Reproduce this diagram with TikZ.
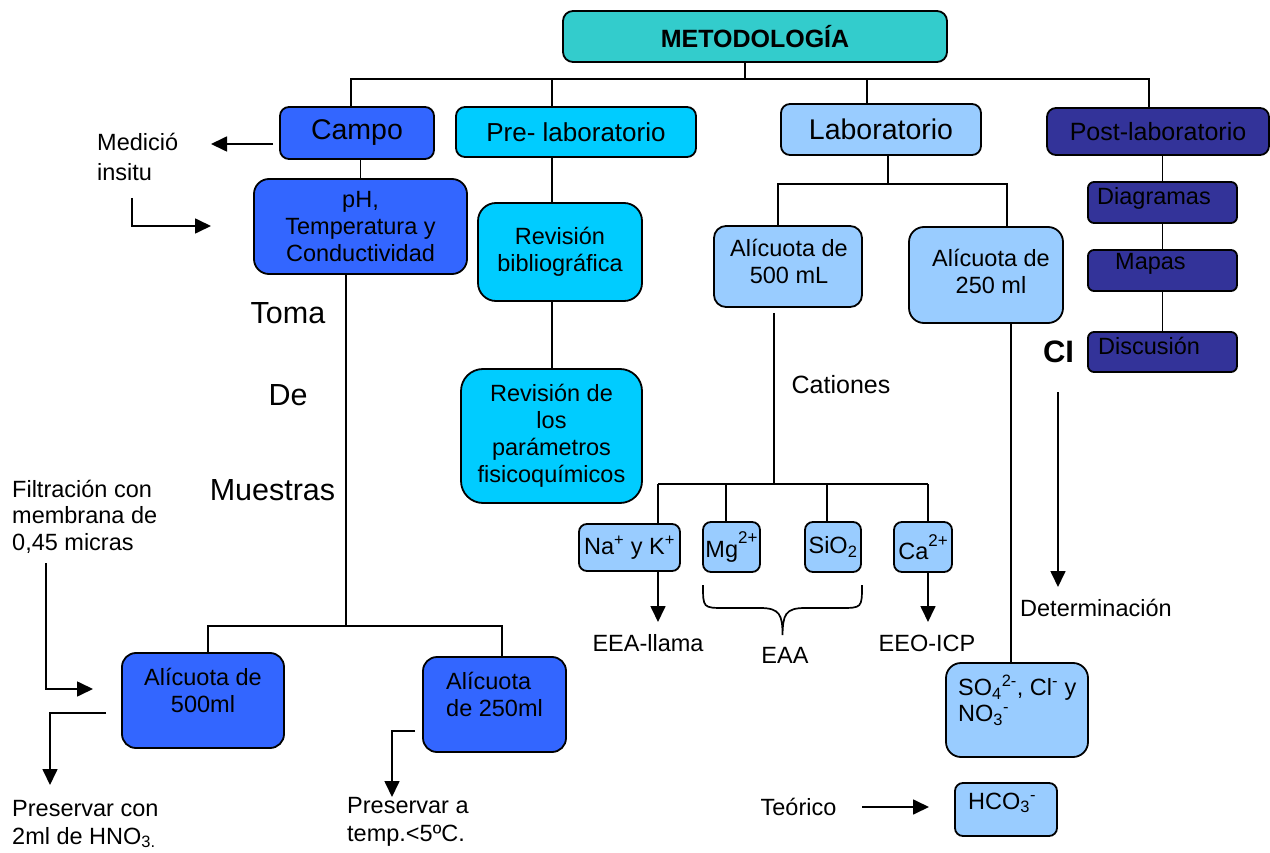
\documentclass[tikz,border=0pt]{standalone}
\usepackage{fontspec}
\setmainfont{Liberation Sans}
\usetikzlibrary{arrows.meta}
\definecolor{cMet}{HTML}{33CCCC}
\definecolor{cCampo}{HTML}{3366FF}
\definecolor{cPre}{HTML}{00CCFF}
\definecolor{cLab}{HTML}{99CCFF}
\definecolor{cPost}{HTML}{333399}
\newcommand\fsz[2]{\fontsize{#1}{#2}\selectfont}
\newcommand\supr[1]{\raisebox{1.05ex}{\fsz{17}{17}#1}}
\begin{document}
\begin{tikzpicture}[x=1pt,y=-1pt,
  bx/.style={draw=black, line width=1.8pt, rounded corners=#1, inner sep=0pt, align=center, font=\fsz{23.5}{27}},
  bx/.default=9pt,
  txt/.style={inner sep=0pt, font=\fsz{23.5}{27}},
  ln/.style={line width=1.7pt},
  arr/.style={line width=1.7pt, -{Triangle[length=16pt,width=15pt]}}]
\useasboundingbox (0,0) rectangle (1270,853);

% ---------- top level ----------
\node[bx=10pt, fill=cMet, minimum width=384, minimum height=51, font=\bfseries\fsz{25}{30}] (met) at (755,36.5) {METODOLOGÍA};
\node[bx, fill=cCampo, minimum width=154, minimum height=52, font=\fsz{28.5}{32}] (campo) at (357,133) {Campo};
\node[bx, fill=cPre, minimum width=240, minimum height=50, font=\fsz{26}{30}] (pre) at (576,132) {Pre- laboratorio};
\node[bx, fill=cLab, minimum width=200, minimum height=51, font=\fsz{28.5}{32}] (lab) at (881,129.5) {Laboratorio};
\node[bx, fill=cPost, minimum width=222, minimum height=47, font=\fsz{25}{30}] (post) at (1158,131.5) {Post-laboratorio};

\coordinate (j0) at (745,79);
\coordinate (b1) at (351,79);
\coordinate (b2) at (552,79);
\coordinate (b3) at (867,79);
\coordinate (b4) at (1149,79);
\draw[ln] (j0 |- met.south) -- (j0);
\draw[ln] (b1 |- campo.north) -- (b1) -- (b4) -- (b4 |- post.north);
\draw[ln] (b2) -- (b2 |- pre.north);
\draw[ln] (b3) -- (b3 |- lab.north);

% ---------- Campo column ----------
\node[bx=15pt, fill=cCampo, minimum width=213, minimum height=95] (ph) at (360.5,226.5) {pH,\\Temperatura y\\Conductividad};
\draw[ln] (ph.north |- campo.south) -- (ph.north);

\coordinate (m0) at (273,144);
\coordinate (m1) at (211,144);
\draw[arr] (m0) -- (m1);
\node[txt, anchor=west, align=left, font=\fsz{23.5}{30}] (medi) at (97,157) {Medició\\insitu};
\coordinate (i0) at (132,198);
\coordinate (i1) at (211,226);
\draw[arr] (i0) |- (i1);

\node[txt, font=\fsz{30.5}{34}] (toma) at (288,313) {Toma};
\node[txt, font=\fsz{30.5}{34}] (de) at (288,395) {De};
\node[txt, font=\fsz{30.5}{34}] (muestras) at (272.5,490) {Muestras};

\node[bx=14pt, fill=cCampo, minimum width=162, minimum height=95] (a500) at (203,700.5) {};
\node[txt, align=center] (a500t) at (203,690.5) {Alícuota de\\500ml};
\node[bx=14pt, fill=cCampo, minimum width=143, minimum height=95] (a250) at (494.5,704.5) {};
\node[txt, align=left, anchor=west] (a250t) at (446,694) {Alícuota\\de 250ml};

\coordinate (t1) at (346,626);
\coordinate (t0) at (208,626);
\coordinate (t2) at (502,626);
\draw[ln] (t1 |- ph.south) -- (t1);
\draw[ln] (t0 |- a500.north) -- (t0) -- (t2) -- (t2 |- a250.north);

\node[txt, anchor=west, align=left, font=\fsz{23.5}{26.5}] (filt) at (12,516.5) {Filtración con\\membrana de\\0,45 micras};
\coordinate (f0) at (46,563);
\coordinate (f1) at (93,689);
\draw[arr] (f0) |- (f1);
\coordinate (g0) at (106,713);
\coordinate (g1) at (50,785);
\draw[arr] (g0) -| (g1);
\node[txt, anchor=west, align=left, font=\fsz{23.5}{28}] (pres1) at (12,824) {Preservar con\\2ml de HNO\textsubscript{3.}};
\coordinate (r0) at (415,731);
\coordinate (r1) at (392,797);
\draw[arr] (r0) -| (r1);
\node[txt, anchor=west, align=left, font=\fsz{23.5}{28}] (pres2) at (347,822) {Preservar a\\temp.<5ºC.};

% ---------- Pre-laboratorio column ----------
\node[bx=18pt, fill=cPre, minimum width=164, minimum height=98] (rb) at (560,252) {Revisión\\bibliográfica};
\node[bx=22pt, fill=cPre, minimum width=181, minimum height=134] (rp) at (551.5,436) {Revisión de\\los\\parámetros\\fisicoquímicos};
\coordinate (pc) at (552,250);
\draw[ln] (pc |- pre.south) -- (pc |- rb.north);
\draw[ln] (pc |- rb.south) -- (pc |- rp.north);

% ---------- Laboratorio column ----------
\node[bx=12pt, fill=cLab, minimum width=148, minimum height=81] (a5l) at (788,266.5) {};
\node[txt, align=center] (a5lt) at (789,261.5) {Alícuota de\\500 mL};
\node[bx=15pt, fill=cLab, minimum width=154, minimum height=96] (a2l) at (986,275) {};
\node[txt, align=center] (a2lt) at (991,271) {Alícuota de\\250 ml};
\coordinate (l0) at (888,184);
\coordinate (l1) at (778,184);
\coordinate (l2) at (1007,184);
\draw[ln] (l0 |- lab.south) -- (l0);
\draw[ln] (l1 |- a5l.north) -- (l1) -- (l2) -- (l2 |- a2l.north);

\coordinate (c0) at (774,484);
\coordinate (c0a) at (774,313);
\draw[ln] (c0a) -- (c0);
\node[txt, font=\fsz{25}{28}] (cat) at (841,385) {Cationes};

\node[bx=8pt, fill=cLab, minimum width=101, minimum height=47] (na) at (629.5,547.5) {Na\textsuperscript{+} y K\textsuperscript{+}};
\node[bx=8pt, fill=cLab, minimum width=57, minimum height=50] (mg) at (731.5,547) {Mg\supr{2+}};
\node[bx=8pt, fill=cLab, minimum width=56, minimum height=50] (si) at (833,547) {SiO\textsubscript{2}};
\node[bx=8pt, fill=cLab, minimum width=58, minimum height=50] (ca) at (923,547) {Ca\supr{2+}};
\coordinate (k1) at (658,484);
\coordinate (k2) at (726,484);
\coordinate (k3) at (827,484);
\coordinate (k4) at (928,484);
\draw[ln] (k1) -- (k4);
\draw[ln] (k1) -- (k1 |- na.north);
\draw[ln] (k2) -- (k2 |- mg.north);
\draw[ln] (k3) -- (k3 |- si.north);
\draw[ln] (k4) -- (k4 |- ca.north);

\coordinate (e1) at (658,622);
\coordinate (e2) at (928,622);
\draw[arr] (e1 |- na.south) -- (e1);
\draw[arr] (e2 |- ca.south) -- (e2);
\node[txt] (eea) at (648,643) {EEA-llama};
\node[txt] (eeo) at (927,643) {EEO-ICP};
\draw[ln] (703,585) .. controls (703,608) and (703,608) .. (725,608) -- (760,608)
  .. controls (780,608) and (782.5,615) .. (782.5,635)
  .. controls (783,615) and (785,608) .. (805,608) -- (840,608)
  .. controls (862,608) and (862,608) .. (862,585);
\node[txt] (eaa) at (785,655) {EAA};

\node[bx=15pt, fill=cLab, minimum width=142, minimum height=94] (so4) at (1017,710) {};
\node[txt, anchor=west, align=left, font=\fsz{23.5}{26}] (so4t) at (958,700) {SO\textsubscript{4}\textsuperscript{2-}, Cl\textsuperscript{-} y\\NO\textsubscript{3}\textsuperscript{-}};
\coordinate (s0) at (1011,500);
\draw[ln] (s0 |- a2l.south) -- (s0 |- so4.north);

\node[bx=8pt, fill=cLab, minimum width=102, minimum height=53] (hco3) at (1006,809.5) {};
\node[txt, anchor=west] (hco3t) at (968,803) {HCO\textsubscript{3}\textsuperscript{-}};
\node[txt] (teo) at (798.5,807) {Teórico};
\coordinate (h0) at (862,807);
\coordinate (h1) at (929,807);
\draw[arr] (h0) -- (h1);

% ---------- Post-laboratorio column ----------
\node[bx=6pt, fill=cPost, minimum width=149, minimum height=41] (diag) at (1162.5,202.5) {};
\node[bx=6pt, fill=cPost, minimum width=149, minimum height=41] (mapas) at (1162.5,270.5) {};
\node[bx=6pt, fill=cPost, minimum width=149, minimum height=40] (disc) at (1162.5,352) {};
\node[txt, anchor=west] (diagt) at (1097,198) {Diagramas};
\node[txt, anchor=west] (mapast) at (1115,264) {Mapas};
\node[txt, anchor=west] (disct) at (1098,346) {Discusión};
\draw[ln] (diag.north |- post.south) -- (diag.north);
\draw[ln] (diag.south) -- (mapas.north);
\draw[ln] (mapas.south) -- (disc.north);

\node[txt, font=\bfseries\fsz{31}{34}] (ci) at (1058.5,352) {CI};
\coordinate (d0) at (1058,392);
\coordinate (d1) at (1058,587);
\draw[arr] (d0) -- (d1);
\node[txt, anchor=west] (det) at (1020,608) {Determinación};
\end{tikzpicture}
\end{document}
